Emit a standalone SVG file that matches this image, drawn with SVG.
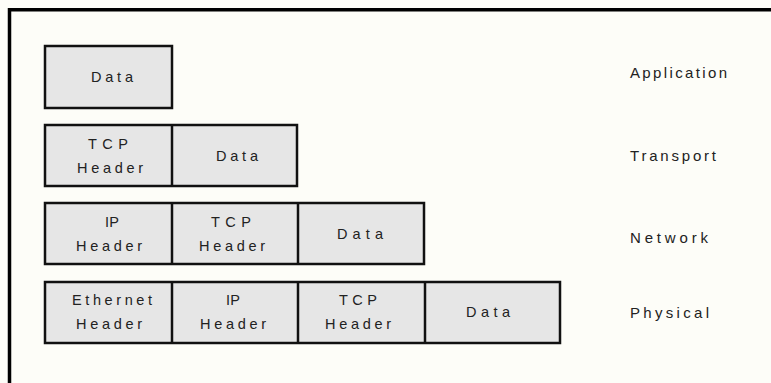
<svg xmlns="http://www.w3.org/2000/svg" width="771" height="383" viewBox="0 0 771 383">
  <style>
    .cell { fill: #e6e6e6; stroke: #111; stroke-width: 2.5; }
    .div { stroke: #111; stroke-width: 2.5; }
    .t { font-family: "Liberation Sans", Arial, sans-serif; font-size: 14.5px; fill: #222; text-anchor: middle; }
    .lbl { font-family: "Liberation Sans", Arial, sans-serif; font-size: 15px; fill: #222; }
  </style>
  <rect width="771" height="383" fill="#fdfdf8"/>
  <!-- frame (top and left edges) -->
  <path d="M 9.5 383 V 9.8 H 771" fill="none" stroke="#000" stroke-width="3.5"/>

  <!-- Application layer -->
  <g id="app-data">
    <rect class="cell" x="45" y="46" width="127" height="62"/>
    <text class="t" x="112" y="82" textLength="42" lengthAdjust="spacing">Data</text>
  </g>

  <!-- Transport layer -->
  <g id="transport-segment">
    <rect class="cell" x="45" y="125" width="252" height="61"/>
    <line class="div" x1="172" y1="125" x2="172" y2="186"/>
    <text class="t" x="108" y="149" textLength="40" lengthAdjust="spacing">TCP</text>
    <text class="t" x="110" y="173" textLength="66" lengthAdjust="spacing">Header</text>
    <text class="t" x="237" y="161" textLength="42" lengthAdjust="spacing">Data</text>
  </g>

  <!-- Network layer -->
  <g id="network-packet">
    <rect class="cell" x="45" y="203" width="379" height="61"/>
    <line class="div" x1="172" y1="203" x2="172" y2="264"/>
    <line class="div" x1="298" y1="203" x2="298" y2="264"/>
    <text class="t" x="112" y="227" textLength="14" lengthAdjust="spacing">IP</text>
    <text class="t" x="109" y="251" textLength="66" lengthAdjust="spacing">Header</text>
    <text class="t" x="231" y="227" textLength="40" lengthAdjust="spacing">TCP</text>
    <text class="t" x="232" y="251" textLength="66" lengthAdjust="spacing">Header</text>
    <text class="t" x="360" y="239" textLength="46" lengthAdjust="spacing">Data</text>
  </g>

  <!-- Physical layer -->
  <g id="physical-frame">
    <rect class="cell" x="45" y="282" width="515" height="61"/>
    <line class="div" x1="172" y1="282" x2="172" y2="343"/>
    <line class="div" x1="298" y1="282" x2="298" y2="343"/>
    <line class="div" x1="425" y1="282" x2="425" y2="343"/>
    <text class="t" x="112" y="305" textLength="80" lengthAdjust="spacing">Ethernet</text>
    <text class="t" x="109" y="329" textLength="66" lengthAdjust="spacing">Header</text>
    <text class="t" x="233" y="305" textLength="14" lengthAdjust="spacing">IP</text>
    <text class="t" x="233" y="329" textLength="66" lengthAdjust="spacing">Header</text>
    <text class="t" x="358" y="305" textLength="38" lengthAdjust="spacing">TCP</text>
    <text class="t" x="358" y="329" textLength="66" lengthAdjust="spacing">Header</text>
    <text class="t" x="488" y="317" textLength="44" lengthAdjust="spacing">Data</text>
  </g>

  <!-- layer names -->
  <g id="layer-labels">
    <text class="lbl" x="630" y="78" textLength="97" lengthAdjust="spacing">Application</text>
    <text class="lbl" x="630" y="161" textLength="86" lengthAdjust="spacing">Transport</text>
    <text class="lbl" x="630" y="243" textLength="78" lengthAdjust="spacing">Network</text>
    <text class="lbl" x="630" y="318" textLength="79" lengthAdjust="spacing">Physical</text>
  </g>
</svg>
